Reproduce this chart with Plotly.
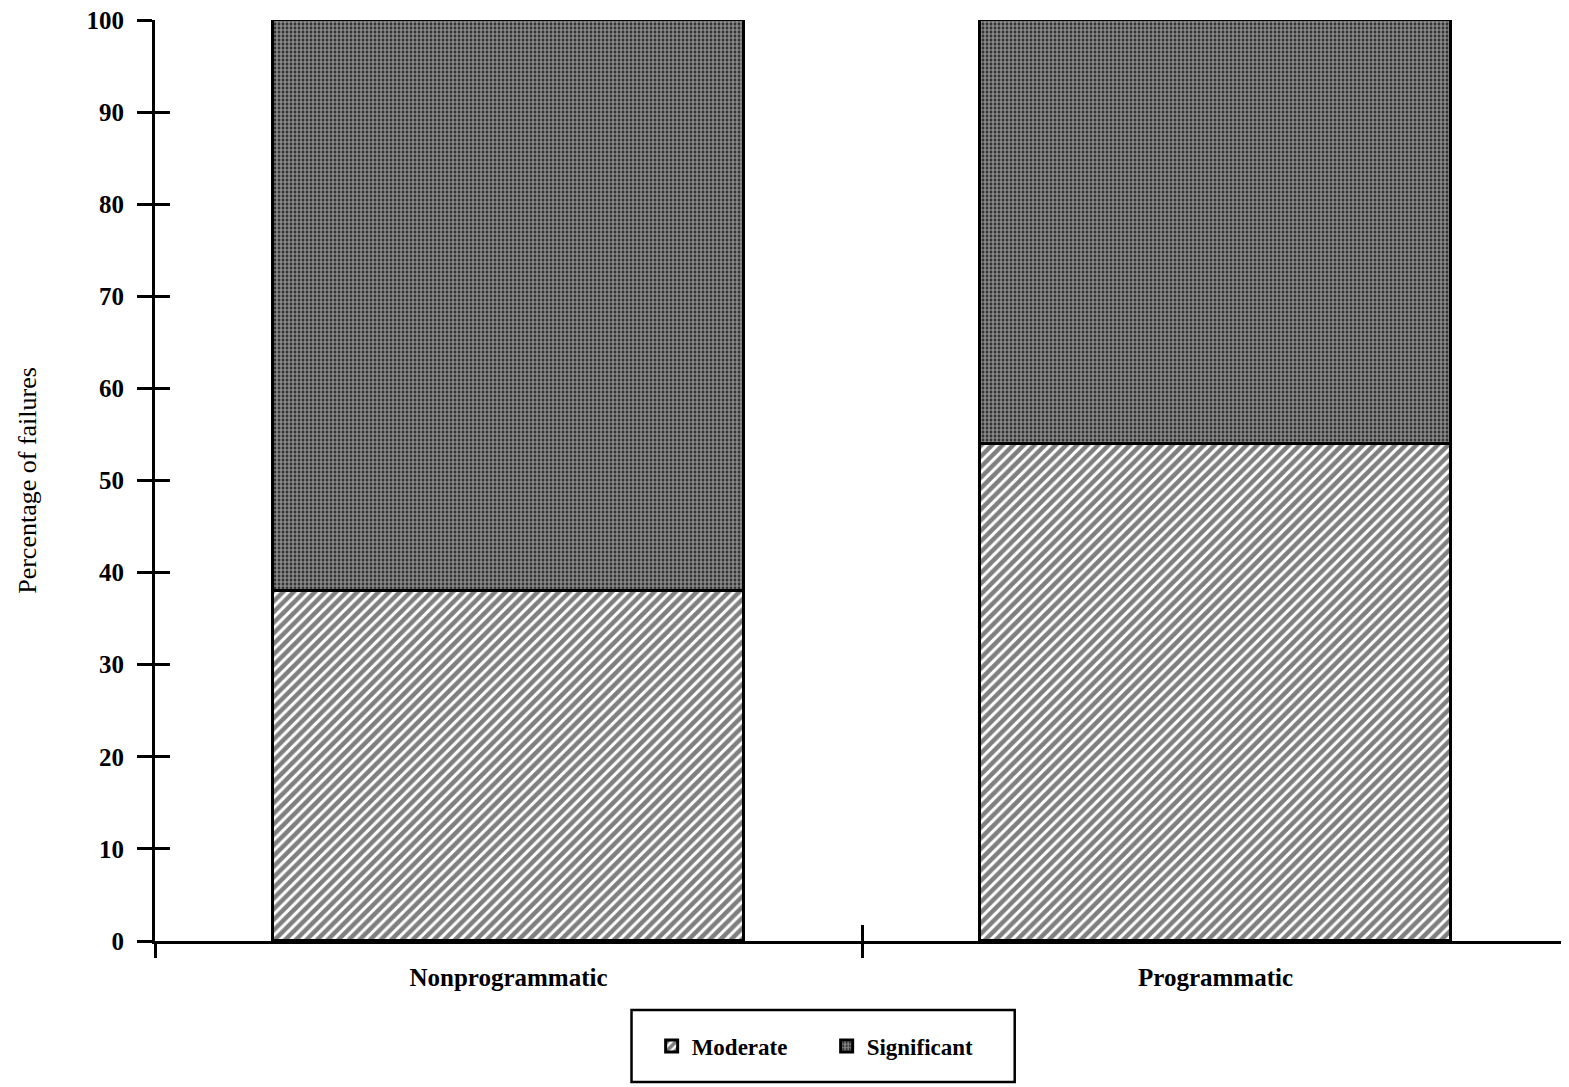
import plotly.graph_objects as go

categories = ["Nonprogrammatic", "Programmatic"]
moderate = [38, 54]
significant = [62, 46]
y_ticks = [0, 10, 20, 30, 40, 50, 60, 70, 80, 90, 100]
x_sep_ticks = [-0.5, 0.5]

FONT = "Liberation Serif"
cat_pos = list(range(len(categories)))

# The page body has an 8px default margin; the figure size is reduced by it.
PAGE_OFF = 8

fig = go.Figure()
fig.add_trace(go.Bar(
    x=cat_pos, y=moderate, name="Moderate", width=0.667,
    marker=dict(color="white", line=dict(color="black", width=3),
                pattern=dict(shape="/", fgcolor="black", bgcolor="white", size=7.5, solidity=0.6)),
))
fig.add_trace(go.Bar(
    x=cat_pos, y=significant, name="Significant", width=0.667,
    marker=dict(color="#777777", line=dict(color="black", width=3),
                pattern=dict(shape=".", fgcolor="#ffffff", bgcolor="#111111", size=4, solidity=0.7)),
))
# helper empty traces so overlay axes are drawn
fig.add_trace(go.Scatter(x=[], y=[], xaxis="x2", yaxis="y", showlegend=False))
fig.add_trace(go.Scatter(x=[], y=[], xaxis="x3", yaxis="y", showlegend=False))
fig.add_trace(go.Scatter(x=[], y=[], xaxis="x", yaxis="y2", showlegend=False))

xr = [-0.5, 1.5]
fig.update_layout(
    width=1569 - PAGE_OFF, height=1087 - PAGE_OFF,
    paper_bgcolor="white", plot_bgcolor="white",
    barmode="stack", bargap=0,
    margin=dict(l=155 - PAGE_OFF, r=0, t=20 - PAGE_OFF, b=146, autoexpand=False),
    font=dict(family=FONT, color="black", size=20),
    showlegend=True,
    legend=dict(orientation="h", x=0.475, xanchor="center", y=-0.114, yanchor="middle",
                borderwidth=0, bgcolor="rgba(0,0,0,0)",
                font=dict(family=FONT, size=23, weight="bold"),
                traceorder="normal", entrywidthmode="pixels", entrywidth=130),
    shapes=[dict(type="rect", xref="paper", yref="paper", x0=0.337, x1=0.608,
                 y0=-0.153, y1=-0.075, line=dict(color="black", width=2.5),
                 fillcolor="white", layer="below")],
    xaxis=dict(range=xr, tickvals=cat_pos, ticktext=categories, ticks="", showgrid=False,
               zeroline=False, showline=True, linecolor="black", linewidth=3, automargin=False,
               tickfont=dict(family=FONT, size=25, weight="bold"), ticklabelstandoff=12),
    xaxis2=dict(range=xr, overlaying="x", anchor="y", tickvals=x_sep_ticks, ticks="outside",
                ticklen=16, tickwidth=3, tickcolor="black", showticklabels=False, automargin=False,
                showgrid=False, zeroline=False, showline=False, side="bottom"),
    xaxis3=dict(range=xr, overlaying="x", anchor="y", tickvals=x_sep_ticks, ticks="inside",
                ticklen=16, tickwidth=3, tickcolor="black", showticklabels=False, automargin=False,
                showgrid=False, zeroline=False, showline=False, side="bottom"),
    yaxis=dict(range=[0, 100], tickvals=y_ticks, ticks="outside", ticklen=15, tickwidth=3,
               tickcolor="black", showgrid=False, zeroline=False, showline=True, automargin=False,
               linecolor="black", linewidth=3, ticklabelstandoff=8, ticklabeloverflow="allow",
               tickfont=dict(family=FONT, size=25, weight="bold"),
               title=dict(text="Percentage of failures", font=dict(family=FONT, size=26),
                          standoff=43)),
    yaxis2=dict(range=[0, 100], overlaying="y", anchor="x", side="left", tickvals=y_ticks,
                ticks="inside", ticklen=15, tickwidth=3, tickcolor="black", automargin=False,
                showticklabels=False, showgrid=False, zeroline=False, showline=False),
)

fig.write_html("out.html")
